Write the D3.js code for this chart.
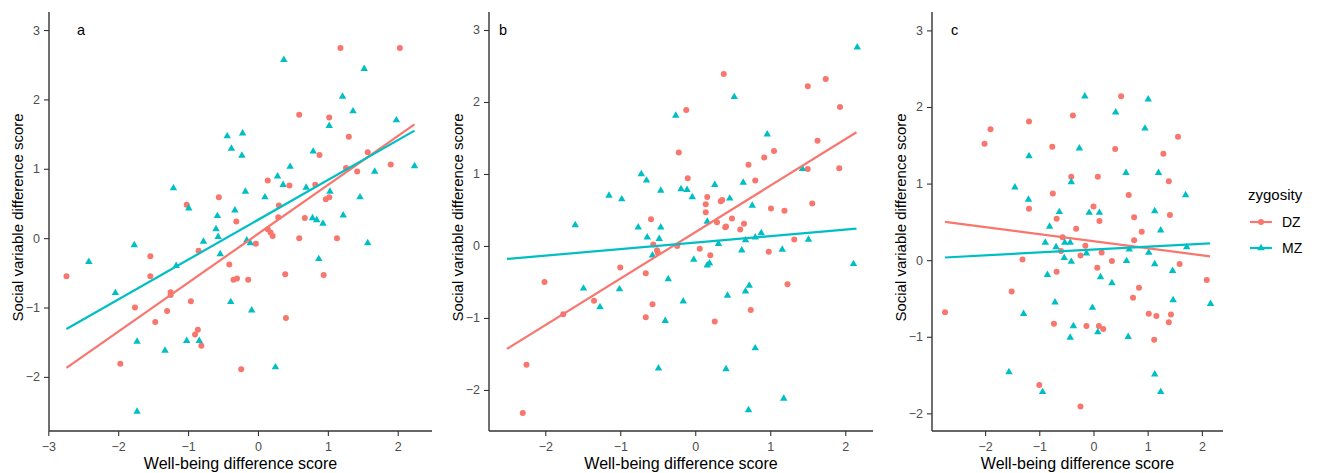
<!DOCTYPE html>
<html>
<head>
<meta charset="utf-8">
<script src="https://cdn.jsdelivr.net/npm/d3@7"></script>
<style>
  body { margin: 0; background: #fff; }
  svg text { font-family: "Liberation Sans", Arial, sans-serif; }
</style>
</head>
<body>
<div id="chart"></div>
<script>
// well-being difference vs social variable difference, per panel and zygosity
const aDZ = [[1.18,2.74],[2.03,2.74],[0.59,1.78],[1.02,1.74],[1.30,1.46],[0.88,1.20],[1.57,1.24],[1.26,1.01],[1.42,0.96],[1.90,1.06],[0.14,0.83],[0.45,0.76],[0.82,0.77],[0.97,0.56],[1.02,0.59],[-1.02,0.48],[-0.56,0.59],[0.30,0.47],[0.29,0.30],[0.67,0.29],[-0.31,0.24],[0.14,0.13],[0.18,0.08],[0.21,0.03],[0.59,0.00],[1.13,0.00],[-2.74,-0.55],[-1.54,-0.26],[-1.54,-0.55],[-0.85,-0.18],[-0.41,-0.38],[-0.35,-0.60],[-0.30,-0.58],[-0.14,-0.60],[-0.03,-0.08],[-1.25,-0.78],[-1.25,-0.82],[-0.96,-0.91],[-1.76,-1.00],[-1.30,-1.05],[-1.47,-1.21],[-0.86,-1.32],[-0.90,-1.39],[-0.81,-1.55],[-1.97,-1.81],[-0.24,-1.89],[0.39,-0.52],[0.94,-0.53],[0.40,-1.15]]
const aMZ = [[0.37,2.57],[1.52,2.44],[1.21,2.04],[1.36,1.83],[1.98,1.70],[1.02,1.62],[-0.44,1.47],[-0.22,1.51],[-0.38,1.29],[-0.23,1.19],[0.79,1.25],[0.46,1.03],[2.24,1.04],[1.67,0.96],[0.28,0.89],[0.36,0.77],[0.69,0.73],[-0.18,0.67],[1.03,0.67],[-1.21,0.72],[0.10,0.59],[1.46,0.59],[-0.99,0.43],[-0.33,0.40],[-0.58,0.32],[0.78,0.29],[0.84,0.26],[0.93,0.21],[1.22,0.33],[-0.60,0.13],[-0.57,0.02],[-0.78,-0.05],[-0.16,-0.03],[-0.11,-0.07],[1.57,-0.07],[-0.54,-0.23],[0.87,-0.30],[-1.17,-0.40],[-1.77,-0.10],[-2.42,-0.34],[-2.04,-0.79],[-0.39,-0.92],[-0.09,-1.04],[-1.73,-1.49],[-1.02,-1.48],[-0.84,-1.48],[-1.33,-1.62],[0.25,-1.86],[-1.73,-2.50]]
const bDZ = [[0.38,2.39],[1.74,2.32],[1.50,2.22],[-0.12,1.89],[1.93,1.93],[-0.22,1.30],[1.63,1.46],[1.05,1.32],[0.92,1.23],[0.71,1.13],[1.50,1.07],[1.92,1.08],[-0.10,0.94],[0.80,0.91],[0.16,0.68],[0.14,0.58],[0.34,0.62],[0.36,0.64],[0.14,0.47],[1.56,0.59],[1.01,0.52],[1.19,0.49],[-0.59,0.37],[0.29,0.33],[0.49,0.38],[0.40,0.26],[0.41,0.27],[0.65,0.31],[0.60,0.23],[1.32,0.09],[-0.56,0.02],[-0.51,-0.06],[-0.50,-0.09],[-0.24,0.00],[0.06,-0.04],[0.20,-0.13],[0.98,-0.08],[-1.00,-0.30],[-0.66,-0.38],[1.23,-0.53],[-2.01,-0.50],[-1.35,-0.76],[-1.76,-0.95],[-0.57,-0.81],[-0.66,-0.99],[0.26,-1.05],[0.74,-0.89],[-2.25,-1.65],[-2.30,-2.32]]
const bMZ = [[2.16,2.76],[0.52,2.07],[-0.26,1.81],[0.96,1.55],[1.43,1.07],[-0.72,1.00],[-0.65,0.91],[0.26,0.85],[0.64,0.88],[-0.19,0.79],[-0.11,0.78],[-0.04,0.68],[-0.46,0.77],[0.46,0.66],[-1.15,0.70],[-0.98,0.65],[0.76,0.56],[-1.60,0.29],[-0.76,0.26],[-0.46,0.26],[0.16,0.34],[0.88,0.18],[0.80,0.12],[0.67,0.08],[-0.64,0.12],[-0.48,0.10],[0.31,0.03],[-0.57,-0.13],[0.62,-0.06],[1.16,-0.05],[1.51,0.09],[-0.02,-0.19],[0.16,-0.27],[0.19,-0.24],[-0.36,-0.46],[-1.49,-0.59],[-1.01,-0.60],[0.72,-0.55],[0.67,-0.63],[0.43,-0.69],[-0.16,-0.77],[-1.27,-0.85],[-0.40,-1.04],[0.80,-1.42],[-0.49,-1.70],[0.41,-1.71],[1.18,-2.12],[0.71,-2.28],[2.11,-0.25]]
const cDZ = [[0.51,2.14],[-0.38,1.89],[-1.19,1.81],[-1.90,1.71],[-2.01,1.52],[-0.76,1.48],[0.40,1.45],[1.56,1.61],[1.29,1.39],[-0.41,1.09],[0.08,1.09],[1.39,1.03],[-0.75,0.87],[0.65,0.85],[-1.19,0.67],[0.00,0.70],[-0.68,0.54],[0.11,0.51],[0.75,0.56],[1.41,0.59],[-0.32,0.41],[0.89,0.37],[-0.57,0.30],[0.75,0.26],[-0.15,0.19],[-0.60,0.12],[0.15,0.10],[-1.31,0.01],[-0.24,0.06],[0.34,-0.01],[0.07,-0.10],[1.59,-0.05],[-0.68,-0.15],[2.09,-0.26],[-1.51,-0.41],[0.84,-0.36],[0.73,-0.49],[-2.74,-0.68],[-0.73,-0.83],[-0.13,-0.86],[0.10,-0.86],[0.18,-0.90],[1.02,-0.70],[1.16,-0.73],[1.43,-0.71],[1.39,-0.81],[1.12,-1.04],[-1.00,-1.63],[-0.24,-1.91]]
const cMZ = [[-0.16,2.14],[1.01,2.10],[0.41,1.93],[0.95,1.72],[-0.26,1.46],[-1.19,1.36],[0.60,1.14],[1.20,1.14],[-0.41,1.02],[-1.45,0.95],[-1.20,0.79],[-0.63,0.63],[-0.08,0.62],[0.11,0.62],[1.13,0.64],[-0.81,0.44],[1.24,0.39],[1.70,0.85],[0.66,0.14],[1.02,0.10],[1.72,0.17],[-0.89,0.23],[-0.53,0.23],[-0.43,0.23],[-0.69,0.17],[-0.13,0.09],[-0.54,0.03],[-0.41,-0.02],[0.61,-0.01],[1.13,-0.05],[1.46,-0.14],[-0.85,-0.19],[0.13,-0.22],[0.34,-0.30],[-0.71,-0.55],[-0.02,-0.62],[-1.29,-0.70],[-0.37,-0.86],[-0.43,-1.01],[0.08,-0.94],[0.64,-1.00],[1.47,-0.52],[2.16,-0.57],[-1.56,-1.46],[-0.94,-1.72],[1.13,-1.49],[1.24,-1.72]]

// fitted lines (start and end point)
const aFit = { DZ: [[-2.74,-1.87],[2.24,1.64]], MZ: [[-2.74,-1.31],[2.24,1.55]] }
const bFit = { DZ: [[-2.51,-1.43],[2.15,1.58]], MZ: [[-2.51,-0.18],[2.15,0.24]] }
const cFit = { DZ: [[-2.74,0.50],[2.15,0.05]], MZ: [[-2.74,0.035],[2.15,0.22]] }

const panelLetters = ['a', 'b', 'c']
const xDomains = [[-2.99, 2.49], [-2.75, 2.37], [-2.98, 2.39]]
const yDomains = [[-2.78, 3.26], [-2.57, 3.25], [-2.23, 3.24]]
const xTicks = [[-3,-2,-1,0,1,2], [-2,-1,0,1,2], [-2,-1,0,1,2]]
const yTicks = [-2,-1,0,1,2,3]
const groups = ['DZ', 'MZ']

const colors = { DZ: '#F8766D', MZ: '#00BFC4' }

const width = 1318
const height = 473
const plotTop = 12
const plotBottom = 431
const lefts = [49, 489, 932]
const rights = [432, 873, 1223]

const svg = d3.select('#chart').append('svg')
  .attr('width', width)
  .attr('height', height)

const panels = [
  { DZ: aDZ, MZ: aMZ, fit: aFit },
  { DZ: bDZ, MZ: bMZ, fit: bFit },
  { DZ: cDZ, MZ: cMZ, fit: cFit }
]

const tri = d3.symbol().type(d3.symbolTriangle).size(24)

function drawMark(sel, group) {
  if (group === 'DZ') {
    sel.append('circle').attr('r', 3).attr('fill', colors.DZ)
  } else {
    sel.append('path').attr('d', tri).attr('fill', colors.MZ)
  }
}

panels.forEach((p, i) => {
  const x = d3.scaleLinear().domain(xDomains[i]).range([lefts[i], rights[i]])
  const y = d3.scaleLinear().domain(yDomains[i]).range([plotBottom, plotTop])
  const g = svg.append('g')

  // points
  groups.forEach(grp => {
    g.append('g').selectAll('g')
      .data(p[grp]).enter()
      .append('g')
        .attr('transform', d => `translate(${x(d[0])},${y(d[1])})`)
        .each(function () { drawMark(d3.select(this), grp) })
  })

  // regression lines
  const line = d3.line().x(d => x(d[0])).y(d => y(d[1]))
  groups.forEach(grp => {
    g.append('path')
      .attr('d', line(p.fit[grp]))
      .attr('fill', 'none')
      .attr('stroke', colors[grp])
      .attr('stroke-width', 2.2)
  })

  // axes
  const xAxis = d3.axisBottom(x).tickValues(xTicks[i]).tickFormat(d3.format('d')).tickSizeOuter(0).tickSize(5)
  const gx = g.append('g')
    .attr('transform', `translate(0,${plotBottom})`)
    .call(xAxis)
  const yAxis = d3.axisLeft(y).tickValues(yTicks).tickFormat(d3.format('d')).tickSizeOuter(0).tickSize(5)
  const gy = g.append('g')
    .attr('transform', `translate(${lefts[i]},0)`)
    .call(yAxis)

  ;[gx, gy].forEach(ax => {
    ax.select('.domain').attr('stroke', '#333').attr('stroke-width', 1.4)
    ax.selectAll('.tick line').attr('stroke', '#333').attr('stroke-width', 1.1)
    ax.selectAll('.tick text')
      .attr('fill', '#4D4D4D')
      .attr('font-size', 12.5)
      .attr('font-family', '"Liberation Sans", Arial, sans-serif')
  })
  gx.selectAll('.tick text').attr('y', 8).attr('dy', '0.95em')
  gy.selectAll('.tick text').attr('x', -9)
  // extend the axis lines over the whole panel
  gx.select('.domain').attr('d', `M${lefts[i]},0H${rights[i]}`)
  gy.select('.domain').attr('d', `M0,${plotTop}V${plotBottom}`)

  // axis titles
  g.append('text')
    .text('Well-being difference score')
    .attr('x', (lefts[i] + rights[i]) / 2)
    .attr('y', 469)
    .attr('text-anchor', 'middle')
    .attr('font-size', 16)
    .attr('fill', '#000')

  g.append('text')
    .text('Social variable difference score')
    .attr('text-anchor', 'middle')
    .attr('font-size', 15)
    .attr('fill', '#000')
    .attr('transform', `translate(${lefts[i] - 26},${(plotTop + plotBottom) / 2 - 4})rotate(-90)`)

  // panel letter
  g.append('text')
    .text(panelLetters[i])
    .attr('x', lefts[i] + [28, 10, 19][i])
    .attr('y', 35)
    .attr('font-size', 14.5)
    .attr('fill', '#000')
})

// legend
const legend = svg.append('g').attr('transform', 'translate(1248,0)')
legend.append('text')
  .text('zygosity')
  .attr('x', 0)
  .attr('y', 200)
  .attr('font-size', 15)
  .attr('fill', '#000')

groups.forEach((grp, k) => {
  const ly = 222 + k * 26
  const item = legend.append('g')
  item.append('line')
    .attr('x1', 2).attr('x2', 24)
    .attr('y1', ly).attr('y2', ly)
    .attr('stroke', colors[grp])
    .attr('stroke-width', 2.2)
  const mk = item.append('g').attr('transform', `translate(13,${ly})`)
  drawMark(mk, grp)
  item.append('text')
    .text(grp)
    .attr('x', 34)
    .attr('y', ly + 5)
    .attr('font-size', 14)
    .attr('fill', '#000')
})
</script>
</body>
</html>
